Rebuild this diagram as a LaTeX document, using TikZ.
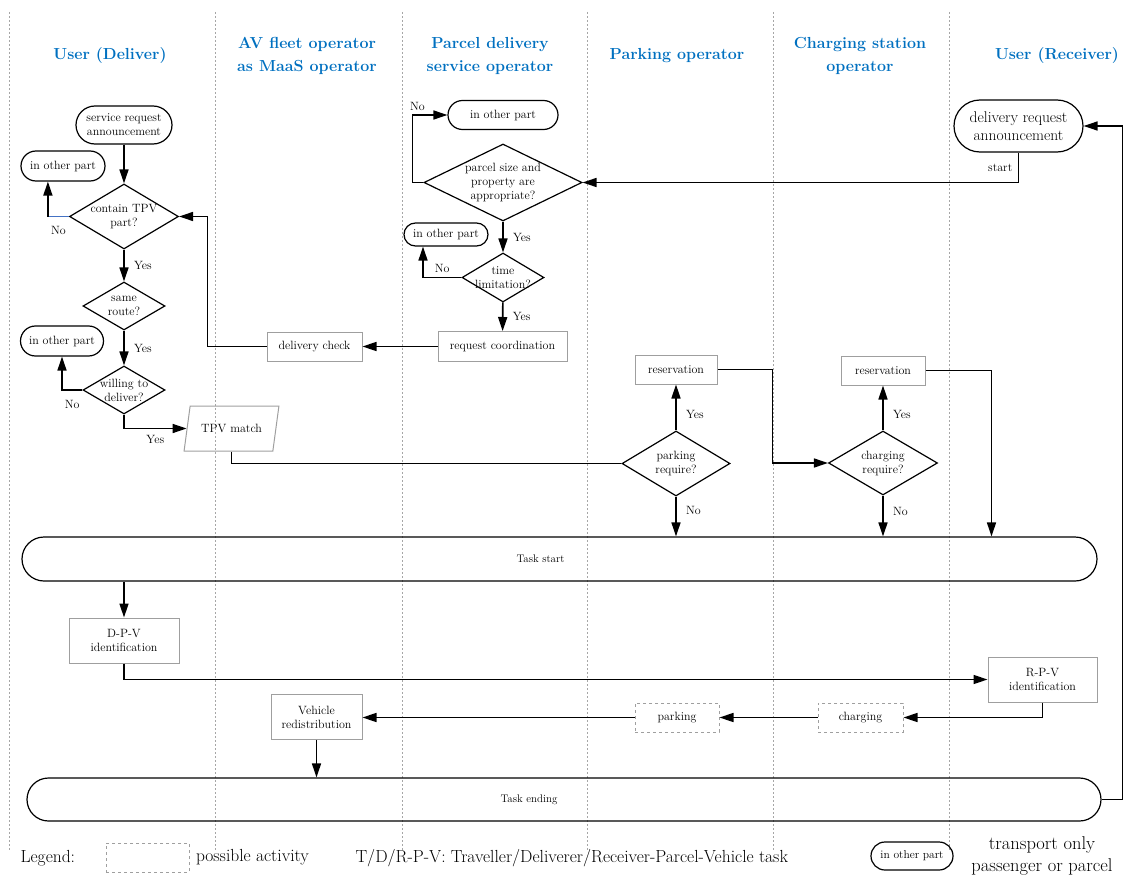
\documentclass[tikz,border=0pt]{standalone}
\usepackage{tikz}
\definecolor{colorHead}{RGB}{0,112,192}
\definecolor{colorNo}{RGB}{68,114,196}
\colorlet{colorLane}{gray!70}
\colorlet{colorBox}{gray!75}
\usetikzlibrary{arrows.meta}
\usetikzlibrary{positioning}
\usetikzlibrary{shapes.geometric,shapes.misc}
\newcommand{\flowfont}{\fontsize{12}{14}\selectfont}
\newcommand{\drqfont}{\fontsize{15.5}{18}\selectfont}
\newcommand{\taskfont}{\fontsize{11}{13}\selectfont}
\newcommand{\headfont}{\fontsize{16}{22.5}\selectfont\bfseries}
\newcommand{\legfont}{\fontsize{17.5}{21}\selectfont}
\newcommand{\legbigfont}{\fontsize{18.5}{22}\selectfont}
\tikzset{
   every path/.style={>={Triangle[length=14pt,width=9pt]}},
   line/.style={line width=1.6pt},
   flow/.style={->,line width=1.6pt},
   lane/.style={colorLane,line width=0.8pt,dash pattern=on 2pt off 2pt},
   hdr/.style={align=center,text=colorHead,font=\headfont},
   term/.style={draw,rectangle,rounded corners=#1,line width=1.2pt,align=center,font=\flowfont,inner sep=1pt},
   dec/.style={diamond,draw,line width=1.2pt,inner sep=0pt},
   act/.style={rectangle,draw=colorBox,line width=1pt,align=center,font=\flowfont},
   opt/.style={act,dashed},
   lbl/.style={font=\flowfont,text=black,align=center},
}

\begin{document}
\begin{tikzpicture}[x=1pt,y=-1pt]
        \useasboundingbox (0,0) rectangle (1136,875);

        % swim lanes
        \draw[lane] (9,12) -- (9,850);
        \draw[lane] (215,12) -- (215,850);
        \draw[lane] (402,12) -- (402,850);
        \draw[lane] (587,12) -- (587,850);
        \draw[lane] (773,12) -- (773,850);
        \draw[lane] (949,12) -- (949,850);

        \node[hdr] (hUD) at (110,56) {User (Deliver)};
        \node[hdr] (hAV) at (307,56) {AV fleet operator\\as MaaS operator};
        \node[hdr] (hPD) at (490,56) {Parcel delivery\\service operator};
        \node[hdr] (hPK) at (677,56) {Parking operator};
        \node[hdr] (hCS) at (860,56) {Charging station\\operator};
        \node[hdr] (hUR) at (1057,56) {User (Receiver)};

        % user (deliver)
        \node[term=19, minimum width=96, minimum height=38] (sra) at (124,125) {service request\\announcement};
        \node[term=15, minimum width=84, minimum height=30] (oth1) at (63,166) {in other part};
        \node[dec, minimum width=109, minimum height=65, label={[lbl]center:contain TPV\\part?}] (ctpv) at (124,216.5) {};
        \node[dec, minimum width=82, minimum height=48, label={[lbl]center:same\\route?}] (same) at (124,306) {};
        \node[term=15, minimum width=83, minimum height=30] (oth2) at (62,341) {in other part};
        \node[dec, minimum width=82, minimum height=48, label={[lbl]center:willing to\\deliver?}] (will) at (124,390) {};
        \node[trapezium, trapezium left angle=72, trapezium right angle=108, trapezium stretches=true,
              draw=colorBox, line width=1pt, minimum width=95, minimum height=45, font=\flowfont] (tpv) at (231.5,428.5) {TPV match};

        % AV fleet operator
        \node[act, minimum width=95, minimum height=29] (dchk) at (314.5,346.5) {delivery check};

        % parcel delivery
        \node[term=14.5, minimum width=110, minimum height=29] (oth3) at (503,115) {in other part};
        \node[dec, minimum width=158, minimum height=77, label={[lbl]center:parcel size and\\property are\\appropriate?}] (psz) at (503,182.5) {};
        \node[term=11.5, minimum width=84, minimum height=23] (oth4) at (446,234.5) {in other part};
        \node[dec, minimum width=82, minimum height=49, label={[lbl]center:time\\limitation?}] (tlim) at (503,277.5) {};
        \node[act, minimum width=129, minimum height=30] (rqc) at (502.5,346.5) {request coordination};

        % parking and charging
        \node[act, minimum width=82, minimum height=29] (res1) at (676,369.5) {reservation};
        \node[dec, minimum width=108, minimum height=65, label={[lbl]center:parking\\require?}] (park) at (676,463.5) {};
        \node[act, minimum width=84, minimum height=29] (res2) at (883,370.5) {reservation};
        \node[dec, minimum width=109, minimum height=64, label={[lbl]center:charging\\require?}] (chg) at (883,463) {};

        % user (receiver)
        \node[term=26, minimum width=129, minimum height=52, font=\drqfont] (drq) at (1018.5,126) {delivery request\\announcement};

        % task
        \node[term=22, minimum width=1075, minimum height=44, label={[font=\taskfont, xshift=-19pt]center:Task start}] (tstart) at (559.5,559) {};
        \node[act, minimum width=110, minimum height=45] (dpv) at (124,640.5) {D-P-V\\identification};
        \node[act, minimum width=109, minimum height=45] (rpv) at (1042.5,679.5) {R-P-V\\identification};
        \node[opt, minimum width=85, minimum height=29] (chgb) at (860.5,717.5) {charging};
        \node[opt, minimum width=84, minimum height=29] (parkb) at (677,717.5) {parking};
        \node[act, minimum width=91, minimum height=45] (vr) at (316.5,717) {Vehicle\\redistribution};
        \node[term=21.5, minimum width=1074, minimum height=43, label={[font=\taskfont, xshift=-35pt]center:Task ending}] (tend) at (564,799.5) {};

        % legend
        \node[font=\legfont, anchor=west] (leg) at (17,858) {Legend:};
        \node[opt, minimum width=83, minimum height=29] (legbox) at (147.5,857.5) {};
        \node[font=\legfont, right=3pt of legbox] (legopt) {possible activity};
        \node[font=\legfont, anchor=west] (legtxt) at (352,858) {T/D/R-P-V: Traveller/Deliverer/Receiver-Parcel-Vehicle task};
        \node[term=14, minimum width=82, minimum height=28, font=\fontsize{11.5}{13}\selectfont] (legterm) at (912,856) {in other part};
        \node[font=\legbigfont, align=center] (legtr) at (1042,856) {transport only\\passenger or parcel};

        % connectors
        \draw[flow] (sra) -- (ctpv);
        \draw[colorNo, line width=1pt] (ctpv.west) -- node[lbl, below=6pt] {No} ++(-21,0) coordinate (cno);
        \draw[flow] (cno) -- (cno |- oth1.south);
        \draw[flow] (ctpv) -- node[lbl, right=6pt] {Yes} (same);
        \draw[flow] (same) -- node[lbl, right=6pt] {Yes} (will);
        \draw[flow] (will.west) -| node[pos=0.25, lbl, below=6pt] {No} (oth2.south);
        \draw[flow] (will.south) |- node[pos=0.75, lbl, below=3pt] {Yes} (tpv.west);
        \draw[line] (tpv.south) |- (park.west);

        \draw[flow] (dchk.west) -- ++(-59,0) |- (ctpv.east);
        \draw[flow] (rqc.west) -- (dchk.east);

        \draw[flow] (drq.south) |- node[pos=0.25, lbl, left=2pt] {start} (psz.east);
        \draw[flow] (psz.west) -- ++(-11,0) |- node[pos=0.5, lbl, above, xshift=5pt] {No} (oth3.west);
        \draw[flow] (psz) -- node[lbl, right=6pt] {Yes} (tlim);
        \draw[flow] (tlim.west) -| node[pos=0.25, lbl, above=1pt] {No} ([xshift=-23pt]oth4.south);
        \draw[flow] (tlim) -- node[lbl, right=6pt] {Yes} (rqc);

        \draw[flow] (park) -- node[lbl, right=6pt, pos=0.35] {Yes} (res1);
        \draw[flow] (park.south) -- node[lbl, right=6pt, pos=0.35] {No} (park.south |- tstart.north);
        \draw[flow] (res1.east) -- ++(55,0) |- (chg.west);
        \draw[flow] (chg) -- node[lbl, right=6pt, pos=0.35] {Yes} (res2);
        \draw[flow] (chg.south) -- node[lbl, right=6pt, pos=0.4] {No} (chg.south |- tstart.north);
        \draw[flow] (res2.east) -- ++(66,0) coordinate (r2c) -- (r2c |- tstart.north);

        \draw[flow] (tstart.south -| dpv.north) -- (dpv.north);
        \draw[flow] (dpv.south) |- (rpv.west);
        \draw[flow] (rpv.south) |- (chgb.east);
        \draw[flow] (chgb) -- (parkb);
        \draw[flow] (parkb.west) -- (parkb.west -| vr.east);
        \draw[flow] (vr.south) -- (vr.south |- tend.north);
        \draw[flow] (tend.east) -- ++(21,0) |- (drq.east);
\end{tikzpicture}
\end{document}
